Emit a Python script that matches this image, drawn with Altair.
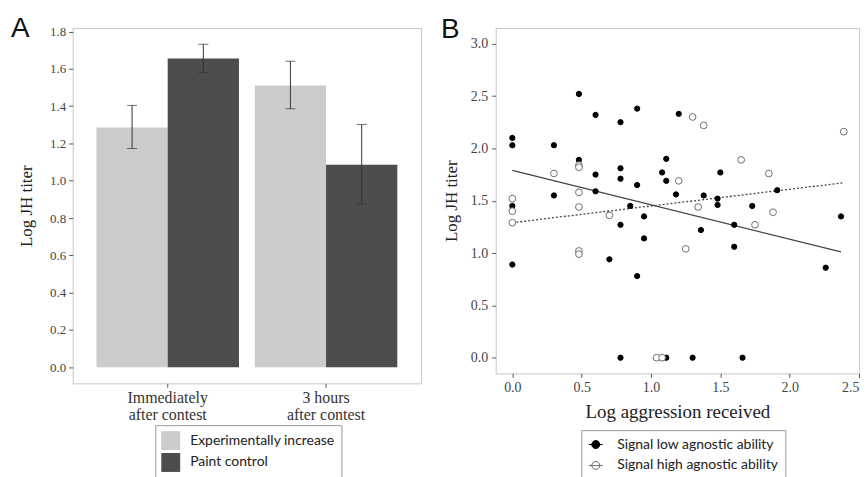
import altair as alt
import pandas as pd

# ---------------- Panel A data ----------------
times = ["Immediately\nafter contest", "3 hours\nafter contest"]
treatments = ["Experimentally increase", "Paint control"]
bar_time = [times[0], times[0], times[1], times[1]]
bar_treat = [treatments[0], treatments[1], treatments[0], treatments[1]]
bar_mean = [1.286, 1.655, 1.511, 1.086]
bar_lo = [1.173, 1.580, 1.386, 0.875]
bar_hi = [1.404, 1.732, 1.641, 1.302]
bar_colors = ["#cccccc", "#4d4d4d"]
y_ticks_a = [0.0, 0.2, 0.4, 0.6, 0.8, 1.0, 1.2, 1.4, 1.6, 1.8]

# ---------------- Panel B data ----------------
groups = ["Signal low agnostic ability", "Signal high agnostic ability"]
low_x = [0, 0, 0, 0, 0.30, 0.30, 0.48, 0.48, 0.60, 0.60, 0.60, 0.70, 0.78, 0.78,
         0.78, 0.78, 0.78, 0.85, 0.90, 0.90, 0.90, 0.95, 0.95, 1.08, 1.11, 1.11,
         1.11, 1.18, 1.20, 1.30, 1.36, 1.38, 1.48, 1.48, 1.50, 1.60, 1.60, 1.66,
         1.73, 1.91, 2.26, 2.37]
low_y = [2.10, 2.03, 1.45, 0.89, 2.03, 1.55, 2.52, 1.89, 2.32, 1.75, 1.59, 0.94,
         2.25, 1.81, 1.71, 1.27, 0.00, 1.45, 2.38, 1.65, 0.78, 1.35, 1.14, 1.77,
         1.90, 1.69, 0.00, 1.56, 2.33, 0.00, 1.22, 1.55, 1.52, 1.46, 1.77, 1.27,
         1.06, 0.00, 1.45, 1.60, 0.86, 1.35]
high_x = [0, 0, 0, 0.30, 0.48, 0.48, 0.48, 0.48, 0.48, 0.48, 0.70, 1.04, 1.08,
          1.20, 1.25, 1.30, 1.34, 1.38, 1.65, 1.75, 1.85, 1.88, 2.39]
high_y = [1.52, 1.40, 1.29, 1.76, 1.84, 1.82, 1.58, 1.44, 1.02, 0.99, 1.36, 0.00,
          0.00, 1.69, 1.04, 2.30, 1.44, 2.22, 1.89, 1.27, 1.76, 1.39, 2.16]
fit_low_x = [0.0, 2.37]
fit_low_y = [1.79, 1.01]
fit_high_x = [0.0, 2.38]
fit_high_y = [1.29, 1.67]
x_ticks_b = [0.0, 0.5, 1.0, 1.5, 2.0, 2.5]
y_ticks_b = [0.0, 0.5, 1.0, 1.5, 2.0, 2.5, 3.0]
panel_letters = ["A", "B"]

SERIF = "Liberation Serif"
SANS = "Lato"

# ---------------- Panel A ----------------
df_a = pd.DataFrame({"time": bar_time, "treat": bar_treat, "mean": bar_mean,
                     "lo": bar_lo, "hi": bar_hi})

xA = alt.X("time:N", sort=times,
           scale=alt.Scale(paddingInner=0.1, paddingOuter=0.15),
           axis=alt.Axis(title=None, labelAngle=0, labelExpr="split(datum.label, '\\n')",
                         labelFont=SERIF, labelFontSize=16, labelLineHeight=17,
                         labelPadding=2, labelColor="#333", tickSize=4,
                         labelBaseline="top"))
xoffA = alt.XOffset("treat:N", sort=treatments,
                    scale=alt.Scale(paddingInner=0, paddingOuter=0))
yscaleA = alt.Scale(domain=[-0.0866, 1.819], nice=False, zero=False)
axisA = alt.Axis(title="Log JH titer", values=y_ticks_a, format=".1f",
                 labelFont=SERIF, labelFontSize=13, tickSize=4, labelPadding=3,
                 labelOverlap=False, titleFontSize=17, titlePadding=14)

bars = alt.Chart(df_a).mark_bar(opacity=1).encode(
    x=xA, xOffset=xoffA,
    y=alt.Y("mean:Q", scale=yscaleA, axis=axisA), y2=alt.datum(0),
    color=alt.Color("treat:N", sort=treatments,
                    scale=alt.Scale(domain=treatments, range=bar_colors),
                    legend=alt.Legend(title=None, orient="none", legendX=83, legendY=399,
                                      direction="vertical", strokeColor="#999",
                                      padding=6, symbolType="square", symbolSize=361,
                                      symbolStrokeWidth=0, symbolOpacity=1,
                                      labelFont=SANS, labelFontSize=14, labelLimit=300,
                                      labelColor="#222", labelOffset=10,
                                      rowPadding=3)))
err = alt.Chart(df_a).mark_rule(color="#333", strokeWidth=1).encode(
    x=xA, xOffset=xoffA, y=alt.Y("lo:Q", scale=yscaleA, axis=axisA), y2="hi:Q")
cap_lo = alt.Chart(df_a).mark_tick(color="#333", size=10, thickness=1,
                                   orient="horizontal").encode(
    x=xA, xOffset=xoffA, y=alt.Y("lo:Q", scale=yscaleA, axis=axisA))
cap_hi = alt.Chart(df_a).mark_tick(color="#333", size=10, thickness=1,
                                   orient="horizontal").encode(
    x=xA, xOffset=xoffA, y=alt.Y("hi:Q", scale=yscaleA, axis=axisA))
letterA = alt.Chart(pd.DataFrame({"letter": [panel_letters[0]]})).mark_text(
    align="left", baseline="alphabetic", fontSize=28, font="Liberation Sans",
    color="#111").encode(x=alt.value(-62), y=alt.value(9), text="letter:N")

panelA = alt.layer(bars, err, cap_lo, cap_hi, letterA).properties(width=350, height=357)

# ---------------- Panel B ----------------
df_low = pd.DataFrame({"x": low_x, "y": low_y, "group": [groups[0]] * len(low_x)})
df_high = pd.DataFrame({"x": high_x, "y": high_y, "group": [groups[1]] * len(high_x)})
df_fit_low = pd.DataFrame({"x": fit_low_x, "y": fit_low_y})
df_fit_high = pd.DataFrame({"x": fit_high_x, "y": fit_high_y})

xscaleB = alt.Scale(domain=[-0.12, 2.50], nice=False, zero=False)
yscaleB = alt.Scale(domain=[-0.15, 3.15], nice=False, zero=False)
xB = alt.X("x:Q", scale=xscaleB,
           axis=alt.Axis(title="Log aggression received", values=x_ticks_b, format=".1f",
                         labelFont=SERIF, labelFontSize=14, tickSize=4, labelPadding=3,
                         labelOverlap=False, titleFontSize=19, titlePadding=8))
yB = alt.Y("y:Q", scale=yscaleB,
           axis=alt.Axis(title="Log JH titer", values=y_ticks_b, format=".1f",
                         labelFont=SERIF, labelFontSize=14, tickSize=4, labelPadding=4,
                         labelOverlap=False, titleFontSize=17, titlePadding=10))

line_low = alt.Chart(df_fit_low).mark_line(color="#444", strokeWidth=1.3).encode(x=xB, y=yB)
line_high = alt.Chart(df_fit_high).mark_line(color="#444", strokeWidth=1.3,
                                             strokeDash=[2, 2]).encode(x=xB, y=yB)

sym_path = "M-1,0L1,0M0.57,0A0.57,0.57,0,1,1,-0.57,0A0.57,0.57,0,1,1,0.57,0Z"
# legends of concatenated panels are placed relative to the left panel's origin
legB = alt.Legend(title=None, orient="none", legendX=511, legendY=404,
                  direction="vertical", strokeColor="#999", padding=7,
                  symbolType=sym_path, symbolSize=196, symbolStrokeWidth=1,
                  symbolOpacity=1, labelFont=SANS, labelFontSize=14, labelLimit=300,
                  labelColor="#222", labelOffset=14, rowPadding=6)
fillB = alt.Fill("group:N", sort=groups,
                 scale=alt.Scale(domain=groups, range=["black", "white"]), legend=legB)
strokeB = alt.Stroke("group:N", sort=groups,
                     scale=alt.Scale(domain=groups, range=["black", "#6e6e6e"]), legend=legB)
pts_low = alt.Chart(df_low).mark_point(shape="circle", opacity=1, strokeWidth=1, size=28).encode(
    x=xB, y=yB, fill=fillB, stroke=strokeB)
pts_high = alt.Chart(df_high).mark_point(shape="circle", opacity=1, strokeWidth=1, size=46).encode(
    x=xB, y=yB, fill=fillB, stroke=strokeB)
letterB = alt.Chart(pd.DataFrame({"letter": [panel_letters[1]]})).mark_text(
    align="left", baseline="alphabetic", fontSize=28, font="Liberation Sans",
    color="#111").encode(x=alt.value(-55), y=alt.value(10), text="letter:N")

panelB = alt.layer(line_low, line_high, pts_low, pts_high, letterB).properties(width=365, height=347)

chart = alt.hconcat(panelA, panelB, spacing=75, bounds="flush").properties(
    padding={"left": 2, "top": 5, "right": 0, "bottom": 0}
).configure_view(stroke="#c8c8c8", strokeWidth=1).configure_axis(
    domain=False, grid=False, tickColor="#555", labelColor="#444",
    labelFont=SERIF, titleFont=SERIF, titleFontWeight="normal", titleColor="#222"
)

chart.save("out.html", embed_options={"renderer": "svg", "actions": False})
